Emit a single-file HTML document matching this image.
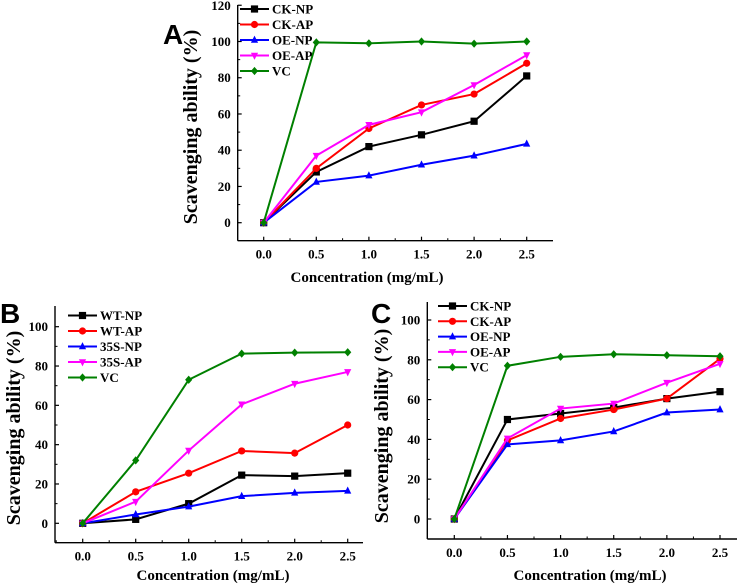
<!DOCTYPE html>
<html><head><meta charset="utf-8"><style>
html,body{margin:0;padding:0;background:#fff;}
svg{display:block;font-family:"Liberation Serif",serif;font-weight:bold;}
</style></head><body>
<svg id="s" width="749" height="584" viewBox="0 0 749 584"></svg>
<script>
const xCats=[0,0.5,1.0,1.5,2.0,2.5];
const xTickLabels=["0.0","0.5","1.0","1.5","2.0","2.5"];
const colors=["#000000","#ff0000","#0000ff","#ff00ff","#008000"];
const markers=["square","circle","tri","tridown","diamond"];
// Panel A
const aNames=["CK-NP","CK-AP","OE-NP","OE-AP","VC"];
const aCKNP=[0,28,42,48.5,56,81];
const aCKAP=[0,30,52,65,71,88];
const aOENP=[0,22.5,26,32,37,43.5];
const aOEAP=[0,37,54,61,76,92.5];
const aVC=[0,99.5,99,100,98.8,100];
const aYTicks=[0,20,40,60,80,100,120];
// Panel B
const bNames=["WT-NP","WT-AP","35S-NP","35S-AP","VC"];
const bWTNP=[0,2,10,24.5,24,25.5];
const bWTAP=[0,16,25.5,36.8,35.7,50];
const b35NP=[0,4.5,8.5,13.8,15.5,16.5];
const b35AP=[0,11,37,60.5,71,77];
const bVC=[0,32,73,86.3,86.8,87];
const bYTicks=[0,20,40,60,80,100];
// Panel C
const cNames=["CK-NP","CK-AP","OE-NP","OE-AP","VC"];
const cCKNP=[0,50,53,56,60.5,64];
const cCKAP=[0,39.5,50.5,55,60.5,80.5];
const cOENP=[0,37.5,39.5,44,53.5,55];
const cOEAP=[0,40.5,55.5,58,68.5,78];
const cVC=[0,77,81.5,82.8,82.3,81.8];
const cYTicks=[0,20,40,60,80,100];

const NS="http://www.w3.org/2000/svg";
const svg=document.getElementById('s');
function mk(tag,attrs,parent,text){const e=document.createElementNS(NS,tag);for(const k in attrs)e.setAttribute(k,attrs[k]);if(text!==undefined)e.textContent=text;(parent||svg).appendChild(e);return e;}
function marker(g,type,x,y,c){
  const r=3.6;let e;
  if(type==="square")e=mk('rect',{x:x-r,y:y-r,width:2*r,height:2*r,fill:c},g);
  else if(type==="circle")e=mk('circle',{cx:x,cy:y,r:r,fill:c},g);
  else if(type==="tri")e=mk('polygon',{points:`${x},${y-r-0.8} ${x-r},${y+r-0.8} ${x+r},${y+r-0.8}`,fill:c},g);
  else if(type==="tridown")e=mk('polygon',{points:`${x},${y+r+0.8} ${x-r},${y-r+0.8} ${x+r},${y-r+0.8}`,fill:c},g);
  else e=mk('polygon',{points:`${x},${y-r-0.5} ${x+r},${y} ${x},${y+r+0.5} ${x-r},${y}`,fill:c},g);
  
  
}
function panel(p){
  const g=mk('g',{});
  
  
  const xs=v=>p.x0+(p.x1-p.x0)*v/2.5;
  const ys=v=>p.y0-(p.y0-p.y100)*v/100;
  const ya=mk('line',{x1:p.ax,y1:p.top,x2:p.ax,y2:p.bot,stroke:'#000','stroke-width':1.4},g);
  
  const xa=mk('line',{x1:p.ax,y1:p.bot,x2:p.right,y2:p.bot,stroke:'#000','stroke-width':1.4},g);
  
  p.yt.forEach(v=>{
    const y=ys(v);
    mk('line',{x1:p.ax,y1:y,x2:p.ax+4,y2:y,stroke:'#000','stroke-width':1.2},g);
    const t=mk('text',{x:p.ax-7,y:y+4.5,'text-anchor':'end','font-size':13},g,String(v));
    
  });
  for(let i=0;i<p.yt.length-1;i++){const y=ys((p.yt[i]+p.yt[i+1])/2);mk('line',{x1:p.ax,y1:y,x2:p.ax+2.5,y2:y,stroke:'#000','stroke-width':1},g);}
  { const y=ys(-10); if(y<p.bot-2) mk('line',{x1:p.ax,y1:y,x2:p.ax+2.5,y2:y,stroke:'#000','stroke-width':1},g); }
  xCats.forEach((v,i)=>{
    const x=xs(v);
    mk('line',{x1:x,y1:p.bot,x2:x,y2:p.bot-4,stroke:'#000','stroke-width':1.2},g);
    const t=mk('text',{x:x,y:p.bot+18,'text-anchor':'middle','font-size':13},g,xTickLabels[i]);
    
  });
  for(let v=-0.25;v<=2.75;v+=0.5){const x=xs(v);if(x>p.ax+1&&x<p.right)mk('line',{x1:x,y1:p.bot,x2:x,y2:p.bot-2.5,stroke:'#000','stroke-width':1},g);}
  const xt=mk('text',{x:p.xtx,y:p.xty,'text-anchor':'middle','font-size':15},g,'Concentration (mg/mL)');
  
  const yt=mk('text',{x:0,y:0,'text-anchor':'middle','font-size':20,transform:`translate(${p.ytx},${p.yty}) rotate(-90)`},g,'Scavenging ability (%)');
  
  const lab=mk('text',{x:p.lx,y:p.ly,'font-family':'Liberation Sans, sans-serif','font-size':28,'font-weight':'bold'},g,p.id);
  
  p.series.forEach((s,si)=>{
    const sg=mk('g',{},g);
    
    
    const pts=s.map((v,i)=>xs(xCats[i])+','+ys(v)).join(' ');
    mk('polyline',{points:pts,fill:'none',stroke:colors[si],'stroke-width':2},sg);
    s.forEach((v,i)=>marker(sg,markers[si],xs(xCats[i]),ys(v),colors[si]));
  });
  p.names.forEach((n,i)=>{
    const lg=mk('g',{},g);
    
    
    const y=p.legY+i*p.legDy;
    mk('line',{x1:p.legX,y1:y,x2:p.legX+29,y2:y,stroke:colors[i],'stroke-width':2},lg);
    marker(lg,markers[i],p.legX+14.5,y,colors[i]);
    mk('text',{x:p.legX+32,y:y+4.5,'font-size':13},lg,n);
  });
}
panel({id:'A',ax:237.7,top:5,bot:240.7,right:553,x0:263.7,x1:526.7,y0:222.7,y100:41.5,yt:aYTicks,
  series:[aCKNP,aCKAP,aOENP,aOEAP,aVC],names:aNames,legX:240,legY:9,legDy:15.5,
  xtx:367,xty:282,ytx:197,yty:127,lx:163,ly:44});
panel({id:'B',ax:55,top:306,bot:542.7,right:363,x0:82.7,x1:347.7,y0:523.3,y100:326.7,yt:bYTicks,
  series:[bWTNP,bWTAP,b35NP,b35AP,bVC],names:bNames,legX:68,legY:315.5,legDy:15.5,
  xtx:213,xty:580,ytx:20,yty:428,lx:0,ly:323});
panel({id:'C',ax:427.3,top:302,bot:539,right:737,x0:454.3,x1:720,y0:519,y100:320,yt:cYTicks,
  series:[cCKNP,cCKAP,cOENP,cOEAP,cVC],names:cNames,legX:438,legY:306,legDy:15.3,
  xtx:590,xty:580,ytx:388,yty:426,lx:371,ly:323});
</script>
</body></html>
